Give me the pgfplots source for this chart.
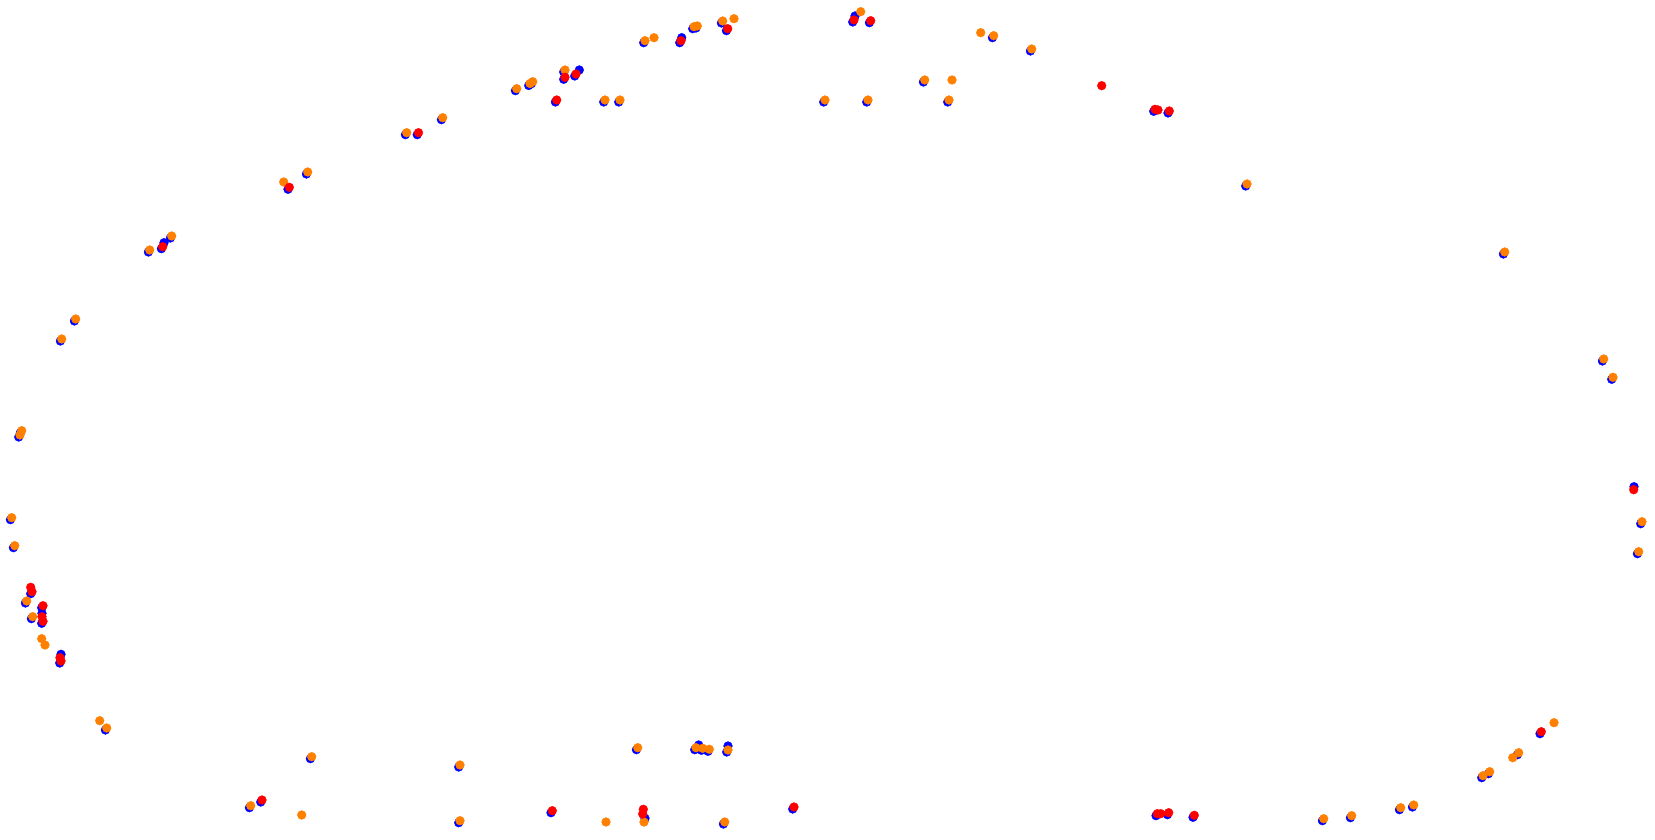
\documentclass[border=0pt]{standalone}
\usepackage{pgfplots}
\pgfplotsset{compat=1.18}
\definecolor{myorange}{RGB}{255,128,0}
\begin{document}
\begin{tikzpicture}
\begin{axis}[
  x=0.1mm, y=0.1mm,
  xmin=0, xmax=1655, ymin=0, ymax=840,
  y dir=reverse,
  hide axis, clip=false,
  only marks,
]
\path (axis cs:0,0) rectangle (axis cs:1655,840);
% blue series
\addplot[color=blue, mark=*, mark size=0.44mm, mark options={solid, line width=0.1pt, draw=blue, fill=blue}] coordinates {
(405.4,134.7) (306.4,174) (170.4,238) (148.4,252) (74.4,321) (60.4,341) (441.4,119.7) (515.4,90.7) (531.4,83.7) (528.7,85.5) (563.7,72) (603.7,102) (618.7,102) (643.7,42.7) (696,28) (692.7,28.7) (721.4,23) (823.7,102) (866.7,102) (923.4,82) (947.7,102) (992.4,37.7) (1030.4,51) (1245.7,186) (1503.4,254) (1602.4,361) (1611.7,379.3) (1640.7,523.7) (1637.4,553.7) (1517.4,754.7) (1488.4,773.7) (1481.7,777.7) (1412.4,807) (1399.4,809.7) (1350.4,817.7) (1322.4,820.7) (458.7,767) (458.7,822.7) (636.4,749.7) (694.7,749.7) (701.4,750.3) (708,751.3) (726.7,752) (723.4,824) (20.4,432.7) (18.7,437) (10.4,519.7) (13.4,547.7) (25.4,603) (31.4,618.7) (105.4,730) (310.4,758.7) (249.4,807.7)
(417.2,134.7) (288,189.3) (161.4,248.7) (563.7,79.3) (574.7,76) (555.4,102) (679.7,42.7) (726.4,30.7) (852.7,22) (869.4,22.7) (1153.7,111.3) (1168,113) (1540,733.7) (1156,815.7) (1167.4,814.7) (1193,817.3) (551,812.7) (792.7,809) (30.7,593.7) (41.7,607.7) (41.7,623.3) (59.7,663) (260.7,802)
(164,242.7) (579.3,70) (681.7,37.7) (855,16) (1634,486.7) (645,818.3) (698.7,745) (728,746) (42,613.3) (61,654.3)
};
% orange series
\addplot[color=myorange, mark=*, mark size=0.44mm, mark options={solid, line width=0.1pt, draw=myorange, fill=myorange}] coordinates {
(406.7,132.7) (307.7,172) (283.7,182) (171.7,236) (149.7,250) (75.7,319) (61.7,339) (442.7,117.7) (516.7,88.7) (532.7,81.7) (530,83.5) (565,70) (605,100) (620,100) (645,40.7) (654,37.7) (697.3,26) (694,26.7) (722.7,21) (734,18.7) (825,100) (860.7,11.7) (868,100) (924.7,80) (952,80) (949,100) (980.7,32.7) (993.7,35.7) (1031.7,49) (1247,184) (1504.7,252) (1603.7,359) (1613,377.3) (1642,521.7) (1638.7,551.7) (1554,722.7) (1518.7,752.7) (1512.7,757.7) (1489.7,771.7) (1483,775.7) (1413.7,805) (1400.7,807.7) (1351.7,815.7) (1323.7,818.7) (460,765) (460,820.7) (606,822) (637.7,747.7) (644,822) (696,747.7) (702.7,748.3) (709.3,749.3) (728,750) (724.7,822) (21.7,430.7) (20,435) (11.7,517.7) (14.7,545.7) (26.7,601) (32.7,616.7) (41.7,638.7) (45,645) (99.7,720.7) (106.7,728) (311.7,756.7) (250.7,805.7) (301.7,815)
};
% red series
\addplot[color=red, mark=*, mark size=0.44mm, mark options={solid, line width=0.1pt, draw=red, fill=red}] coordinates {
(418.5,132.7) (289.3,187.3) (162.7,246.7) (565,77.3) (576,74) (556.7,100) (681,40.7) (727.7,28.7) (854,20) (870.7,20.7) (1101.7,85.7) (1155,109.3) (1158,110) (1169.3,111) (1633.7,489.7) (1541.3,731.7) (1157.3,813.7) (1160.7,813.7) (1168.7,812.7) (1194.3,815.3) (552.3,810.7) (643.3,809.3) (642.7,814) (794,807) (30.7,587.3) (32,591.7) (43,605.7) (42,616.7) (43,621.3) (60,657.7) (61,661) (262,800)
};
\end{axis}
\end{tikzpicture}
\end{document}
